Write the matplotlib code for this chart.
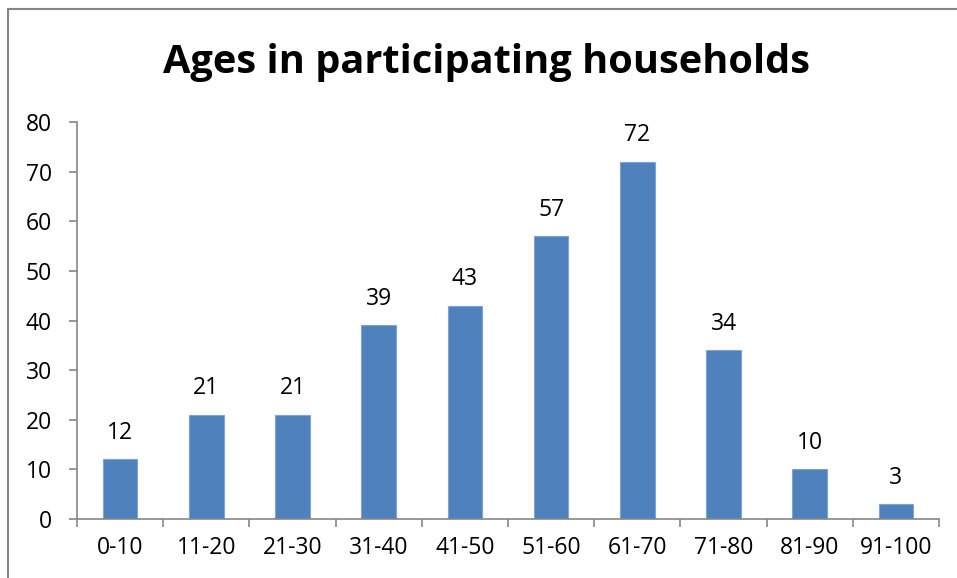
import matplotlib
matplotlib.use("Agg")
import matplotlib.pyplot as plt
from matplotlib.patches import Rectangle

categories = ["0-10", "11-20", "21-30", "31-40", "41-50", "51-60", "61-70", "71-80", "81-90", "91-100"]
values = [12, 21, 21, 39, 43, 57, 72, 34, 10, 3]
yticks = [0, 10, 20, 30, 40, 50, 60, 70, 80]
title = "Ages in participating households"

W, H = 957, 578
FS = 16.5
plt.rcParams['font.family'] = ['Open Sans', 'DejaVu Sans']
fig = plt.figure(figsize=(W / 100, H / 100), dpi=100)

# chart border
fig.patches.append(Rectangle((8 / W, -0.1), 1.2, (H - 9) / H + 0.1, transform=fig.transFigure,
                             fill=False, edgecolor='#868686', linewidth=1.5))

ax = fig.add_axes([77 / W, (H - 519) / H, (939 - 77) / W, (519 - 122) / H])
x = list(range(len(categories)))
ax.bar(x, values, width=0.4, color='#4F81BD', edgecolor='#7FA3D3', linewidth=0.8, zorder=2)
for xi, v in zip(x, values):
    ax.annotate(str(v), (xi, v), xytext=(0, 19), textcoords='offset points',
                ha='center', va='center', fontsize=FS, color='black')

ax.set_xlim(-0.5, len(categories) - 0.5)
ax.set_ylim(0, 80)
ax.set_yticks(yticks)
ax.set_yticklabels([str(t) for t in yticks], fontsize=FS)
ax.set_xticks(x)
ax.set_xticklabels(categories, fontsize=FS)
ax.set_xticks([i - 0.5 for i in range(len(categories) + 1)], minor=True)
ax.tick_params(axis='x', which='major', length=0, pad=12)
ax.tick_params(axis='x', which='minor', length=6, width=1.2, color='#868686', direction='out')
ax.tick_params(axis='y', length=6, width=1.2, color='#868686', pad=12)
for s in ['top', 'right']:
    ax.spines[s].set_visible(False)
for s in ['left', 'bottom']:
    ax.spines[s].set_color('#868686')
    ax.spines[s].set_linewidth(1.2)

fig.text(487 / W, 1 - 62 / H, title, ha='center', va='center', fontsize=28.6, fontweight='bold')

fig.savefig("out.png", dpi=100)
